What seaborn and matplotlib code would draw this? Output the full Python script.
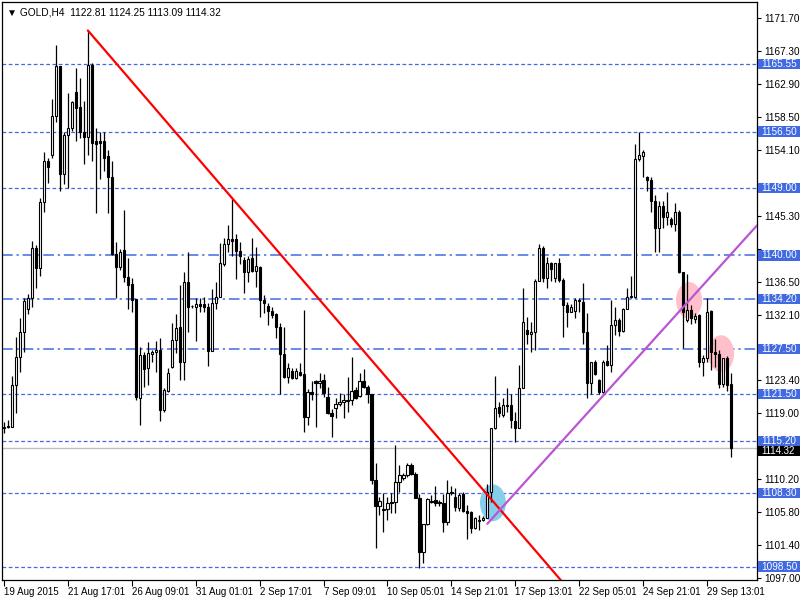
import numpy as np
import pandas as pd
import matplotlib
matplotlib.use('Agg')
import matplotlib.pyplot as plt
import matplotlib.transforms as mtransforms
from matplotlib.patches import Ellipse, Rectangle
import seaborn as sns

# GOLD H4 bars, 19 Aug 2015 -> 30 Sep 2015
opens = [
    1117.0, 1117.2, 1117.1, 1122.7, 1126.5, 1129.8, 1132.9, 1134.3, 1141.0, 1138.3,
    1147.1, 1152.6, 1153.4, 1158.6, 1165.2, 1150.9, 1156.1, 1157.0, 1161.8, 1159.8,
    1156.4, 1155.8, 1165.4, 1155.2, 1155.3, 1155.3, 1153.2, 1150.5, 1140.2, 1138.5,
    1140.7, 1137.1, 1136.2, 1134.2, 1121.0, 1126.7, 1125.0, 1126.9, 1127.1, 1127.4,
    1119.4, 1121.9, 1125.1, 1128.7, 1130.5, 1125.8, 1136.5, 1133.2, 1133.1, 1133.5,
    1133.5, 1133.1, 1127.3, 1133.7, 1134.5, 1138.8, 1141.5, 1142.2, 1142.2, 1140.6,
    1139.4, 1137.8, 1139.7, 1137.9, 1138.5, 1134.1, 1133.3, 1132.6, 1132.2, 1130.5,
    1126.9, 1123.8, 1124.6, 1123.7, 1124.5, 1124.2, 1118.5, 1121.8, 1123.3, 1123.0,
    1123.4, 1121.1, 1119.0, 1119.7, 1120.2, 1120.5, 1120.6, 1120.7, 1122.1, 1121.3,
    1123.3, 1122.5, 1121.5, 1110.1, 1106.6, 1106.2, 1106.2, 1107.0, 1107.1, 1109.8,
    1110.3, 1110.7, 1112.1, 1110.9, 1107.7, 1100.5, 1104.2, 1107.1, 1107.4, 1107.0,
    1107.0, 1104.5, 1108.3, 1107.8, 1106.3, 1108.2, 1105.9, 1105.8, 1103.7, 1104.7,
    1104.7, 1105.0, 1108.5, 1117.0, 1119.8, 1118.7, 1119.9, 1120.1, 1117.9, 1117.0,
    1122.3, 1130.1, 1129.5, 1129.8, 1136.6, 1141.0, 1137.0, 1139.0, 1137.0, 1139.0,
    1136.7, 1133.4, 1132.5, 1132.6, 1133.9, 1133.8, 1129.8, 1123.0, 1125.8, 1123.4,
    1121.8, 1125.9, 1125.4, 1130.7, 1131.4, 1129.9, 1132.9, 1134.5, 1134.5, 1152.9,
    1153.3, 1150.4, 1150.0, 1147.3, 1143.7, 1146.6, 1145.1, 1144.9, 1144.2, 1145.8,
    1137.8, 1131.4, 1132.7, 1131.5, 1132.1, 1125.8, 1126.3, 1132.6, 1127.1, 1126.9,
    1122.9, 1126.3, 1122.81,
]
highs = [
    1117.8, 1118.0, 1123.9, 1129.1, 1131.7, 1134.3, 1134.9, 1141.9, 1141.4, 1147.6,
    1153.8, 1153.0, 1160.9, 1168.0, 1165.2, 1156.5, 1161.7, 1160.6, 1165.0, 1163.7,
    1160.6, 1170.0, 1165.6, 1157.0, 1156.4, 1156.4, 1154.1, 1152.6, 1141.8, 1140.9,
    1146.1, 1139.7, 1137.0, 1134.2, 1127.8, 1127.1, 1128.5, 1127.4, 1128.6, 1129.0,
    1122.3, 1125.0, 1131.0, 1132.2, 1136.1, 1137.8, 1140.5, 1133.4, 1134.3, 1134.3,
    1134.5, 1133.7, 1135.5, 1136.5, 1141.7, 1142.3, 1144.1, 1147.5, 1142.9, 1141.8,
    1139.8, 1139.9, 1142.3, 1141.1, 1138.6, 1134.7, 1133.7, 1133.1, 1132.3, 1131.0,
    1130.5, 1125.7, 1125.0, 1125.0, 1125.7, 1132.7, 1122.2, 1123.3, 1123.4, 1124.3,
    1124.2, 1122.5, 1119.5, 1121.0, 1121.7, 1121.5, 1123.8, 1126.5, 1122.5, 1124.3,
    1124.9, 1122.7, 1121.5, 1112.3, 1107.8, 1108.3, 1107.8, 1108.3, 1114.7, 1112.1,
    1111.0, 1112.3, 1112.3, 1111.1, 1108.2, 1104.2, 1107.7, 1108.1, 1109.3, 1107.4,
    1108.2, 1110.1, 1109.3, 1109.0, 1108.3, 1108.5, 1106.7, 1105.9, 1105.1, 1105.4,
    1105.3, 1109.5, 1117.0, 1123.9, 1120.5, 1121.0, 1122.3, 1121.5, 1119.1, 1125.4,
    1135.7, 1131.8, 1131.1, 1136.8, 1141.5, 1141.2, 1139.8, 1139.1, 1139.0, 1139.7,
    1137.0, 1133.8, 1133.5, 1134.3, 1134.3, 1136.3, 1132.3, 1125.8, 1126.1, 1123.5,
    1126.1, 1128.1, 1134.1, 1133.1, 1131.7, 1133.0, 1135.7, 1137.3, 1154.9, 1156.5,
    1154.1, 1150.6, 1150.4, 1148.0, 1147.3, 1147.2, 1148.5, 1145.1, 1147.0, 1146.1,
    1137.8, 1137.5, 1133.4, 1132.3, 1132.2, 1126.7, 1134.3, 1132.7, 1128.9, 1127.4,
    1126.3, 1126.6, 1124.25,
]
lows = [
    1116.3, 1117.0, 1117.1, 1119.0, 1124.5, 1127.1, 1132.2, 1133.1, 1135.7, 1137.3,
    1145.8, 1149.7, 1153.0, 1157.8, 1148.6, 1149.5, 1149.0, 1156.6, 1155.3, 1155.7,
    1152.2, 1153.4, 1152.6, 1145.6, 1150.2, 1151.2, 1145.7, 1140.1, 1134.3, 1138.1,
    1136.5, 1132.9, 1132.5, 1120.7, 1117.4, 1122.5, 1122.7, 1125.8, 1124.5, 1117.9,
    1119.1, 1121.8, 1125.0, 1127.0, 1123.4, 1123.4, 1129.8, 1133.0, 1128.6, 1132.5,
    1132.5, 1125.3, 1127.3, 1132.9, 1134.5, 1138.6, 1140.5, 1139.9, 1136.9, 1138.8,
    1135.0, 1136.5, 1137.8, 1135.8, 1131.8, 1132.3, 1130.7, 1131.7, 1129.0, 1121.5,
    1123.7, 1123.0, 1123.5, 1123.5, 1123.9, 1116.5, 1117.4, 1120.7, 1117.1, 1122.3,
    1121.1, 1118.9, 1115.8, 1118.3, 1119.9, 1118.3, 1119.1, 1120.1, 1120.9, 1121.1,
    1122.3, 1120.3, 1109.5, 1101.0, 1105.4, 1103.1, 1104.7, 1105.7, 1105.7, 1108.5,
    1110.1, 1110.5, 1110.7, 1107.7, 1098.3, 1099.0, 1104.1, 1107.0, 1106.6, 1106.6,
    1103.1, 1104.1, 1108.1, 1105.9, 1105.9, 1105.8, 1102.2, 1103.0, 1103.5, 1103.4,
    1104.6, 1105.0, 1107.1, 1116.9, 1118.5, 1118.5, 1119.1, 1117.0, 1115.1, 1117.0,
    1122.3, 1128.2, 1127.1, 1127.4, 1136.6, 1136.4, 1135.7, 1136.6, 1136.5, 1136.5,
    1129.1, 1130.5, 1132.5, 1131.7, 1132.5, 1128.2, 1121.0, 1121.5, 1124.1, 1121.5,
    1121.7, 1125.3, 1124.5, 1129.4, 1129.3, 1129.8, 1132.9, 1134.3, 1134.3, 1152.6,
    1150.4, 1148.6, 1145.8, 1140.5, 1140.5, 1143.7, 1144.1, 1143.8, 1143.2, 1137.7,
    1127.7, 1131.1, 1130.9, 1131.0, 1125.1, 1123.9, 1125.8, 1124.7, 1125.1, 1122.3,
    1122.5, 1121.9, 1113.09,
]
closes = [
    1117.1, 1117.1, 1122.7, 1126.5, 1129.8, 1133.9, 1134.3, 1141.0, 1138.3, 1147.1,
    1152.6, 1151.8, 1158.6, 1165.2, 1150.9, 1156.1, 1157.0, 1160.4, 1159.7, 1156.4,
    1155.8, 1165.4, 1155.0, 1154.8, 1155.0, 1153.0, 1150.4, 1140.2, 1138.5, 1140.5,
    1137.1, 1136.1, 1134.1, 1121.1, 1126.7, 1124.9, 1127.0, 1127.1, 1127.4, 1119.4,
    1122.1, 1124.3, 1128.7, 1130.3, 1125.8, 1136.5, 1133.1, 1133.2, 1133.5, 1133.3,
    1133.1, 1127.3, 1133.7, 1134.5, 1139.0, 1141.5, 1142.2, 1141.9, 1140.6, 1139.9,
    1137.8, 1139.5, 1137.9, 1138.6, 1134.1, 1133.7, 1132.6, 1132.1, 1130.5, 1126.9,
    1123.8, 1125.0, 1123.7, 1124.6, 1124.1, 1118.5, 1121.8, 1121.5, 1123.0, 1123.3,
    1121.7, 1119.0, 1118.6, 1120.2, 1120.5, 1120.7, 1120.7, 1121.9, 1121.0, 1123.3,
    1122.5, 1121.5, 1110.1, 1106.6, 1107.3, 1106.1, 1107.0, 1107.1, 1109.8, 1110.7,
    1110.7, 1112.1, 1110.9, 1107.7, 1100.5, 1104.2, 1107.5, 1107.3, 1107.0, 1107.1,
    1104.5, 1108.3, 1108.5, 1106.5, 1108.1, 1105.9, 1105.7, 1103.7, 1105.0, 1104.6,
    1105.0, 1108.5, 1117.0, 1119.7, 1119.0, 1120.1, 1120.1, 1118.1, 1117.0, 1122.3,
    1131.1, 1129.5, 1129.8, 1136.6, 1141.0, 1137.0, 1139.0, 1138.2, 1139.0, 1136.7,
    1133.4, 1132.5, 1133.1, 1134.1, 1134.1, 1129.8, 1123.0, 1125.8, 1124.2, 1121.8,
    1125.8, 1125.4, 1130.7, 1131.4, 1129.9, 1132.9, 1134.5, 1134.6, 1152.9, 1153.4,
    1153.8, 1150.0, 1147.3, 1143.7, 1146.6, 1145.1, 1145.8, 1144.2, 1145.8, 1137.8,
    1132.5, 1132.7, 1131.7, 1131.9, 1125.8, 1126.3, 1132.5, 1127.1, 1126.9, 1122.9,
    1126.3, 1122.7, 1114.32,
]

date_tick_bars = [0, 16, 32, 48, 64, 80, 96, 112, 128, 144, 160, 176]
date_tick_labels = ['19 Aug 2015', '21 Aug 17:01', '26 Aug 09:01', '31 Aug 01:01',
                    '2 Sep 17:01', '7 Sep 09:01', '10 Sep 05:01', '14 Sep 21:01',
                    '17 Sep 13:01', '22 Sep 05:01', '24 Sep 21:01', '29 Sep 13:01']

# price scale; ticks hidden behind level labels get no text
price_ticks = [1171.70, 1167.30, 1162.90, 1158.50, 1154.10, 1149.70, 1145.30,
               1140.90, 1136.50, 1132.10, 1127.70, 1123.40, 1119.00, 1114.60,
               1110.20, 1105.80, 1101.40, 1097.00]
price_tick_labels = ['1171.70', '1167.30', '1162.90', '1158.50', '1154.10', '', '1145.30',
                     '', '1136.50', '1132.10', '', '1123.40', '1119.00', '',
                     '1110.20', '1105.80', '1101.40', '1097.00']

# horizontal support / resistance levels
levels_dashed = [1165.55, 1156.50, 1149.00, 1121.50, 1115.20, 1108.30, 1098.50]
levels_dashdot = [1140.00, 1134.20, 1127.50]
last_price = 1114.32

# trend lines (bar index, price)
red_bars = [21, 140]
red_prices = [1170.0, 1096.3]
purple_bars = [121, 188.5]
purple_prices = [1104.2, 1144.0]

# highlighted crossing points
marker_bars = [122.4, 171.5, 179.5]
marker_prices = [1107.0, 1134.0, 1126.9]
marker_colors = ['#87CEEB', '#FFC0CB', '#FFC0CB']

LEVEL_BLUE = '#4169E1'

sns.set_theme(style='white')
plt.rcParams['font.family'] = ['Liberation Sans', 'DejaVu Sans']

df = pd.DataFrame({'open': opens, 'high': highs, 'low': lows, 'close': closes})
df['bar'] = np.arange(len(df))
up = df['close'] >= df['open']
body_low = df[['open', 'close']].min(axis=1)
body_h = (df['close'] - df['open']).abs()

fig = plt.figure(figsize=(8, 6), dpi=100)
ax = fig.add_axes([2 / 800, 20 / 600, 755 / 800, 578 / 600])
ax.set_facecolor('white')

# level lines
for lv in levels_dashed:
    ax.axhline(lv, color=LEVEL_BLUE, lw=0.9, ls=(0, (3, 2)), zorder=1)
for lv in levels_dashdot:
    ax.axhline(lv, color=LEVEL_BLUE, lw=1.1, ls=(0, (7, 2.5, 1.5, 2.5)), zorder=1)
ax.axhline(last_price, color='#C0C0C0', lw=1.0, zorder=1)

# ellipse markers behind the candles
for b, p, c in zip(marker_bars, marker_prices, marker_colors):
    ax.add_patch(Ellipse((b, p), width=6.5, height=4.9, facecolor=c,
                         edgecolor='none', zorder=2))

# candles
ax.vlines(df['bar'], df['low'], df['high'], color='black', lw=0.9, zorder=3)
ax.bar(df['bar'][up], body_h[up], bottom=body_low[up], width=0.55,
       color='white', edgecolor='black', linewidth=0.8, zorder=4)
ax.bar(df['bar'][~up], body_h[~up], bottom=body_low[~up], width=0.55,
       color='black', edgecolor='black', linewidth=0.8, zorder=4)

# trend lines
sns.lineplot(x=red_bars, y=red_prices, ax=ax, color='red', lw=1.6, zorder=5)
sns.lineplot(x=purple_bars, y=purple_prices, ax=ax, color='#BA55D3', lw=1.6, zorder=5)

ax.set_xlim(-0.5, 188.5)
ax.set_ylim(1096.7, 1173.8)

for sp in ax.spines.values():
    sp.set_color('black')
    sp.set_linewidth(0.9)

# right price axis
ax.yaxis.tick_right()
ax.set_yticks(price_ticks)
ax.set_yticklabels(price_tick_labels)
ax.tick_params(axis='y', which='major', right=True, left=False, length=3,
               width=0.8, color='black', labelsize=7.2, pad=2, labelcolor='black')

# bottom time axis
ax.set_xticks(date_tick_bars)
ax.set_xticklabels(date_tick_labels, ha='left')
ax.tick_params(axis='x', which='major', bottom=True, length=4, width=0.8,
               color='black', labelsize=7, pad=1, labelcolor='black')
ax.set_xlabel('')
ax.set_ylabel('')

# price level labels on the right axis
trans = mtransforms.blended_transform_factory(fig.transFigure, ax.transData)
for lv in levels_dashed + levels_dashdot:
    ax.add_patch(Rectangle((758 / 800, lv - 0.7), 42 / 800, 1.4, transform=trans,
                           facecolor=LEVEL_BLUE, edgecolor='none', clip_on=False, zorder=10))
    ax.text(761 / 800, lv, f'{lv:.2f}', transform=trans, color='white', fontsize=7.2,
            va='center', ha='left', zorder=11, clip_on=False)
# current price label sits just under the 1115.20 label, as on the terminal
ax.add_patch(Rectangle((758 / 800, last_price - 1.1), 42 / 800, 1.3, transform=trans,
                       facecolor='black', edgecolor='none', clip_on=False, zorder=10))
ax.text(761 / 800, last_price - 0.45, f'{last_price:.2f}', transform=trans, color='white',
        fontsize=7.0, va='center', ha='left', zorder=11, clip_on=False)

# header
ax.text(5 / 755, 0.982, '\u25bc GOLD,H4  1122.81 1124.25 1113.09 1114.32',
        transform=ax.transAxes, fontsize=7.3, color='black', va='center', ha='left')

fig.savefig('out.png', dpi=100)
